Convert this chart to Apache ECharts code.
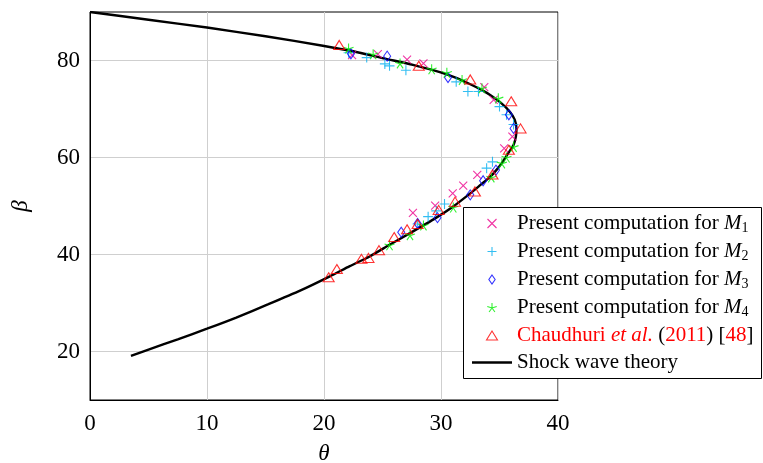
<!DOCTYPE html>
<html>
<head>
<meta charset="utf-8">
<script src="https://cdn.jsdelivr.net/npm/echarts@6/dist/echarts.min.js"></script>
<style>
html,body{margin:0;padding:0;background:#fff;}
#main{width:763px;height:463px;}
</style>
</head>
<body>
<div id="main"></div>
<script>
// shock wave theory curve (theta, beta)
var theory = [[0,90],[5,88.4],[10,86.8],[15,85.0],[19.9,83.05],[22.5,81.9],[25.2,80.4],[27.6,79.1],[29.9,77.6],
    [31.3,76.4],[32.5,75.1],[33.5,73.9],[34.2,72.9],[35.1,71.3],[35.9,69.4],[36.3,67.8],[36.45,66.0],[36.4,64.3],
    [36.2,62.6],[35.75,60.9],[35.3,59.2],[34.8,57.6],[34.2,56.0],[33.4,54.4],[32.5,52.6],[31.05,49.9],[29.6,47.6],
    [27.35,44.4],[25.6,42.0],[23.9,39.6],[22.2,37.6],[20.5,35.5],[18,32.6],[15.2,29.7],[12.5,27.0],[10,24.7],
    [7.5,22.5],[5,20.4],[3.5,19.1]];
var m1 = [[22.4,81.1],[24.6,81.3],[27.1,80.2],[28.5,79.4],[33.7,74.5],[34.5,71.9],[36.1,64.3],[35.4,61.9],
    [33.1,56.4],[31.9,54.2],[31.0,52.6],[29.5,50.1],[27.6,48.6]];
var m2 = [[22.1,81.6],[23.65,80.6],[25.2,79.3],[25.6,78.9],[27.0,78.0],[31.3,75.6],[32.3,73.6],[33.2,73.6],
    [35.0,70.5],[35.6,68.8],[36.2,66.8],[34.4,59.1],[33.9,57.8],[30.3,50.4],[29.6,49.0],[28.9,47.8],[28.0,46.3]];
var m3 = [[22.3,81.4],[25.4,80.9],[30.6,76.5],[35.8,68.8],[36.2,66.0],[34.7,57.4],[33.6,55.2],[32.5,52.3],
    [29.7,47.6],[28.0,46.4],[26.6,44.6]];
var m4 = [[22.1,82.5],[24.2,81.3],[26.5,79.4],[29.2,78.2],[30.5,77.5],[31.8,76.0],[33.5,74.3],[34.9,72.2],
    [36.2,62.2],[35.6,60.0],[35.2,58.8],[34.3,55.9],[31.05,49.7],[28.5,46.0],[27.35,44.0],[25.6,41.9]];
var chaudhuri = [[21.3,83.2],[28.1,78.9],[32.5,76.1],[36.0,71.6],[36.8,66.0],[35.8,61.6],[34.4,56.5],[32.9,53.0],
    [31.2,50.9],[29.8,49.2],[28.0,46.3],[27.1,45.2],[26.0,43.6],[24.7,40.9],[23.8,39.3],[23.2,39.1],[21.1,37.0],[20.4,35.3]];

var serif = '"Liberation Serif", "DejaVu Serif", serif';
// marker shapes, all as paths so the legend keeps their aspect
var crossPath = 'path://M0,0L10,10M0,10L10,0';
var plusPath = 'path://M5,0L5,10M0,5L10,5';
var starPath = 'path://M5,5L5,0M5,5L9.76,3.45M5,5L7.94,9.05M5,5L2.06,9.05M5,5L0.24,3.45';
var diamondPath = 'path://M3.5,0L7,5L3.5,10L0,5Z';
var trianglePath = 'path://M5.5,0L11,9L0,9Z';
var linePath = 'path://M0,0L40,0L40,2.4L0,2.4Z';

function markStyle(c) {
    return {color: 'rgba(0,0,0,0)', borderColor: c, borderWidth: 1.1};
}

var myChart = echarts.init(document.getElementById('main'));

var option = {
    animation: false,
    backgroundColor: '#fff',
    textStyle: {fontFamily: serif},
    grid: {left: 90, right: 205, top: 12, bottom: 63, show: true, borderColor: '#000', borderWidth: 1,
        outerBoundsMode: 'none', containLabel: false},
    graphic: [{
        type: 'rect', z: 3,
        shape: {x: 463.5, y: 207.5, width: 298, height: 171},
        style: {fill: '#fff', stroke: '#000', lineWidth: 1}
    }],
    legend: {
        orient: 'vertical',
        left: 472, top: 213,
        z: 4,
        padding: 0,
        itemWidth: 40, itemHeight: 9,
        itemGap: 6,
        itemStyle: {borderWidth: 1.1},
        textStyle: {
            fontFamily: serif, fontSize: 21, color: '#000', lineHeight: 21,
            rich: {
                it: {fontFamily: serif, fontSize: 21, fontStyle: 'italic', color: '#000'},
                sub: {fontFamily: serif, fontSize: 14, color: '#000', padding: [9, 0, 0, 0]},
                r: {fontFamily: serif, fontSize: 21, color: '#f00'},
                ri: {fontFamily: serif, fontSize: 21, color: '#f00', fontStyle: 'italic'}
            }
        },
        formatter: function (name) {
            if (name === 'M1') return 'Present computation for {it|M}{sub|1}';
            if (name === 'M2') return 'Present computation for {it|M}{sub|2}';
            if (name === 'M3') return 'Present computation for {it|M}{sub|3}';
            if (name === 'M4') return 'Present computation for {it|M}{sub|4}';
            if (name === 'Chaudhuri') return '{r|Chaudhuri }{ri|et al.} ({r|2011}) [{r|48}]';
            return name;
        },
        data: ['M1', 'M2', 'M3', 'M4', 'Chaudhuri',
            {name: 'Shock wave theory', icon: linePath, itemStyle: {color: '#000', borderWidth: 0}}]
    },
    xAxis: {
        type: 'value', min: 0, max: 40, interval: 10,
        name: 'θ', nameLocation: 'middle', nameGap: 42,
        nameTextStyle: {fontFamily: serif, fontSize: 23, fontStyle: 'italic', color: '#000'},
        axisLine: {lineStyle: {color: '#000', width: 1}},
        axisTick: {show: false},
        axisLabel: {fontFamily: serif, fontSize: 23, color: '#000', margin: 12},
        splitLine: {show: true, lineStyle: {color: '#cfcfcf', width: 1}}
    },
    yAxis: {
        type: 'value', min: 10, max: 90, interval: 10,
        name: 'β', nameLocation: 'middle', nameGap: 58, nameRotate: 90,
        nameTextStyle: {fontFamily: serif, fontSize: 23, fontStyle: 'italic', color: '#000'},
        axisLine: {show: true, lineStyle: {color: '#000', width: 1}},
        axisTick: {show: false},
        axisLabel: {
            fontFamily: serif, fontSize: 23, color: '#000', margin: 10,
            formatter: function (v) { return v % 20 === 0 ? v : ''; }
        },
        splitLine: {show: true, lineStyle: {color: ['rgba(0,0,0,0)', '#cfcfcf'], width: 1}}
    },
    series: [
        {name: 'Shock wave theory', type: 'line', data: theory, showSymbol: false, symbol: 'none',
            smooth: 0.2, lineStyle: {color: '#000', width: 2.4}, itemStyle: {color: '#000'}, z: 2},
        {name: 'M1', type: 'scatter', data: m1, symbol: crossPath, symbolSize: 8, itemStyle: markStyle('#ec008c'), z: 3},
        {name: 'M2', type: 'scatter', data: m2, symbol: plusPath, symbolSize: 10, itemStyle: markStyle('#00aeef'), z: 3},
        {name: 'M3', type: 'scatter', data: m3, symbol: diamondPath, symbolSize: [7, 10], itemStyle: markStyle('#0000ff'), z: 3},
        {name: 'M4', type: 'scatter', data: m4, symbol: starPath, symbolSize: 10, itemStyle: markStyle('#00ee00'), z: 3},
        {name: 'Chaudhuri', type: 'scatter', data: chaudhuri, symbol: trianglePath, symbolSize: [11, 9], itemStyle: markStyle('#ff0000'), z: 3}
    ]
};

myChart.setOption(option);
</script>
</body>
</html>
